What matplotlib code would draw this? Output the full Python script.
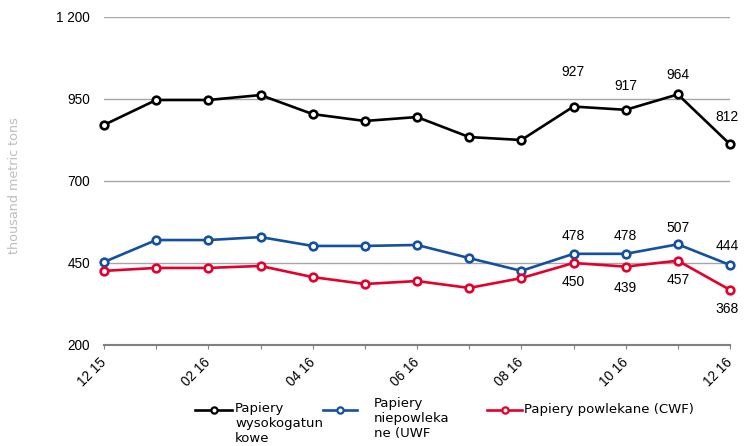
import matplotlib
matplotlib.use("Agg")
import matplotlib.pyplot as plt
from matplotlib.lines import Line2D

months = ["12 15", "01 16", "02 16", "03 16", "04 16", "05 16", "06 16",
          "07 16", "08 16", "09 16", "10 16", "11 16", "12 16"]
wysokogatunkowe = [871, 947, 947, 962, 904, 883, 895, 834, 825, 927, 917, 964, 812]
niepowlekane = [453, 520, 520, 529, 502, 502, 505, 465, 426, 478, 478, 507, 444]
powlekane = [426, 435, 435, 441, 407, 386, 395, 374, 404, 450, 439, 457, 368]

series_names = ["Papiery\nwysokogatun\nkowe", "Papiery\nniepowleka\nne (UWF",
                "Papiery powlekane (CWF)"]
colors = ["#000000", "#1450a0", "#e4002b"]
y_ticks = [200, 450, 700, 950, 1200]
y_tick_labels = ["200", "450", "700", "950", "1 200"]
y_label = "thousand metric tons"

# which points get value labels, and their offsets (pixels)
labelled = [9, 10, 11, 12]
black_off = [(0, 35), (0, 24), (0, 19), (-3, 27)]
blue_off = [(0, 18), (0, 18), (0, 16), (-3, 19)]
red_off = [(0, -19), (0, -21), (0, -19), (-3, -19)]

W, H = 744, 446
fig = plt.figure(figsize=(W / 100, H / 100), dpi=100)
ax = fig.add_axes([104 / W, 1 - 345 / H, (730 - 104) / W, (345 - 17) / H])

x = list(range(len(months)))
all_series = [wysokogatunkowe, niepowlekane, powlekane]
for vals, c in zip(all_series, colors):
    ax.plot(x, vals, color=c, lw=1.9, marker="o", markersize=5.5,
            markerfacecolor="white", markeredgecolor=c, markeredgewidth=1.9,
            clip_on=False, zorder=3)

for vals, offs in zip(all_series, [black_off, blue_off, red_off]):
    for i, off in zip(labelled, offs):
        ax.annotate(str(vals[i]), (i, vals[i]), xytext=off, textcoords="offset pixels",
                    ha="center", va="center", fontsize=10, family="Liberation Sans",
                    color="#000000")

ax.set_xlim(0, len(months) - 1)
ax.set_ylim(200, 1200)
ax.set_yticks(y_ticks)
ax.set_yticklabels(y_tick_labels, family="Liberation Sans", fontsize=9.8)
for yv in y_ticks[1:]:
    ax.axhline(yv, color="#a6a6a6", lw=1.0, zorder=1)

ax.set_xticks(x)
ax.set_xticklabels([m if i % 2 == 0 else "" for i, m in enumerate(months)],
                   rotation=45, ha="right", va="center", rotation_mode="anchor",
                   family="Liberation Sans", fontsize=9.8)
ax.tick_params(axis="x", length=3, width=0.8, color="#808080", direction="out", pad=8)
ax.tick_params(axis="y", length=0, pad=10)

for s in ["top", "right", "left"]:
    ax.spines[s].set_visible(False)
ax.spines["bottom"].set_color("#808080")
ax.spines["bottom"].set_linewidth(1.5)

fig.text(15 / W, 1 - 186 / H, y_label, rotation=90, ha="center", va="center",
         color="#bdbdbd", fontsize=9.2, family="DejaVu Sans")

# legend
leg_y = 410
handles = [(195, 232, 235, 402, "top"), (323, 357, 374, 397, "top"), (487, 522, 524, 410, "center")]
for (x0, x1, tx, ty, va), c, name in zip(handles, colors, series_names):
    fig.add_artist(Line2D([x0 / W, x1 / W], [1 - leg_y / H, 1 - leg_y / H],
                          color=c, lw=1.9, transform=fig.transFigure))
    fig.add_artist(Line2D([(x0 + x1) / 2 / W], [1 - leg_y / H], marker="o",
                          markersize=4.5, markerfacecolor="white", markeredgecolor=c,
                          markeredgewidth=1.6, transform=fig.transFigure))
    fig.text(tx / W, 1 - ty / H, name, ha="left", va=va, fontsize=9.5,
             family="DejaVu Sans", linespacing=1.18)

fig.savefig("out.png", dpi=100)
